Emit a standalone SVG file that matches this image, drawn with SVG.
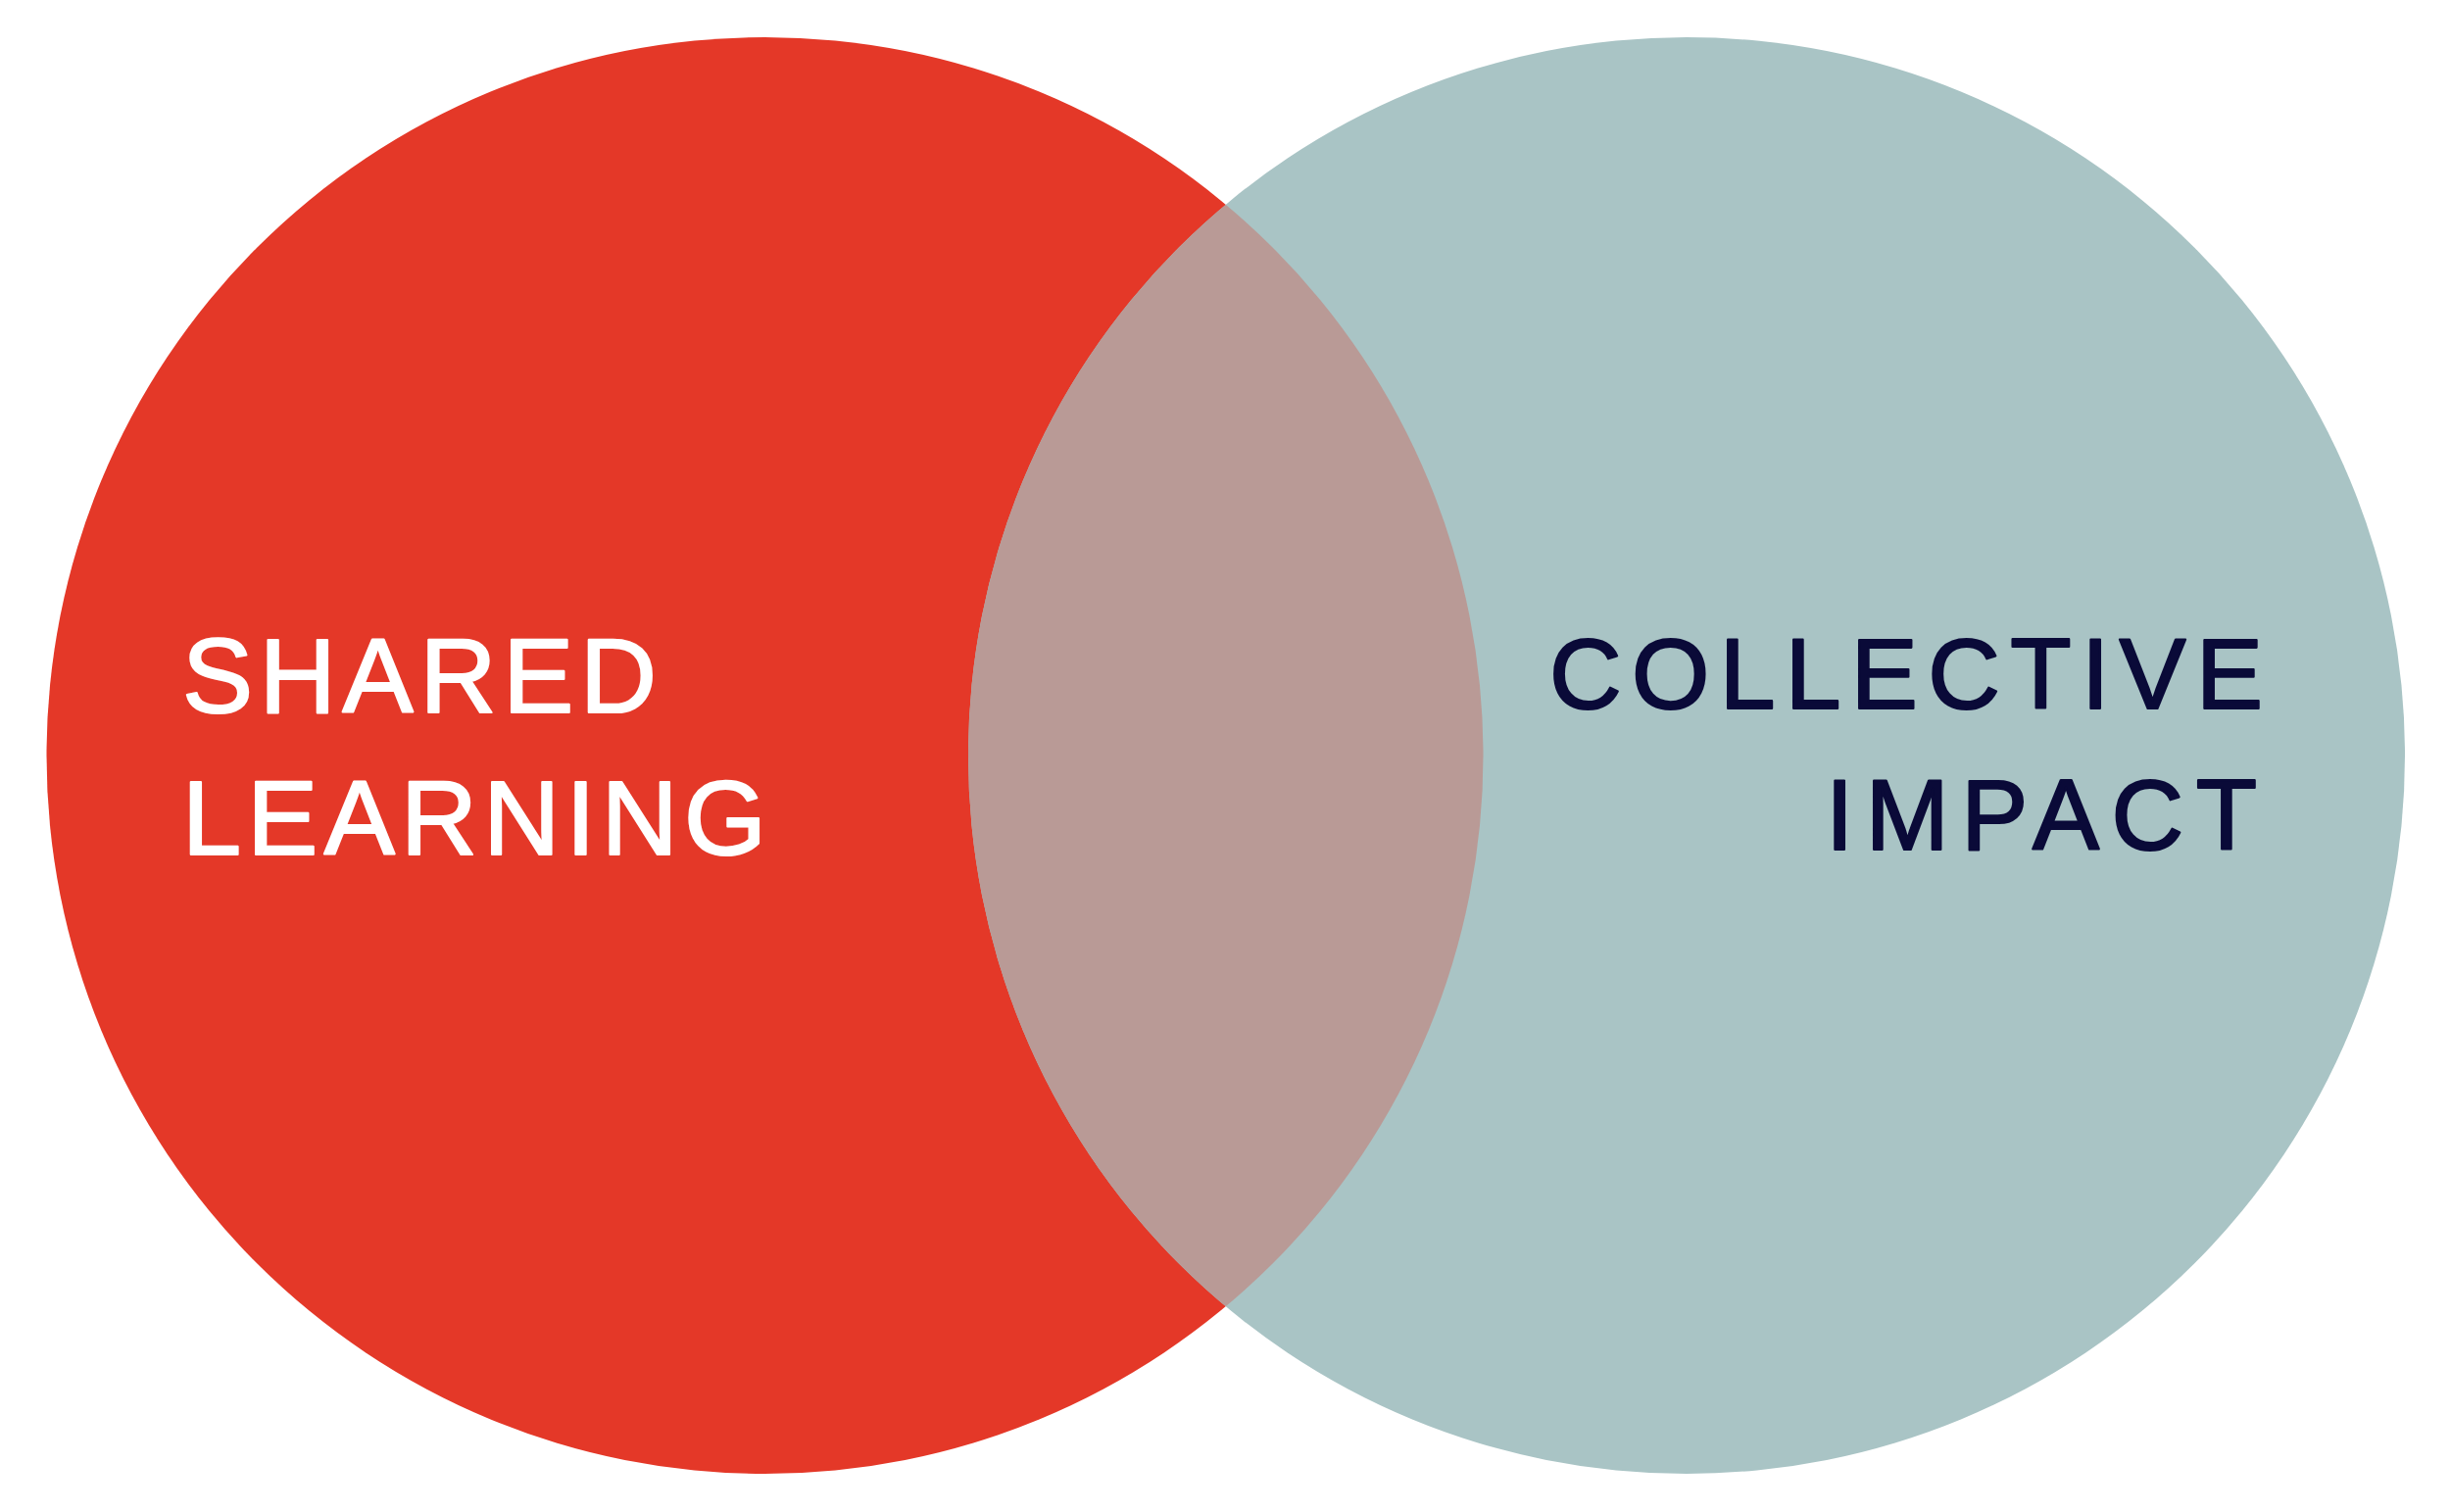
<svg xmlns="http://www.w3.org/2000/svg" width="2500" height="1543" viewBox="0 0 2500 1543">
  <defs>
    <style>
      .lbl { font-family: "Liberation Sans", Arial, sans-serif; stroke-width: 2.2; stroke-linejoin: round; }
      .white { fill: #FFFFFF; stroke: #FFFFFF; }
      .navy { fill: #0A0A38; stroke: #0A0A38; }
    </style>
    <clipPath id="clipLeft">
      <circle cx="780.5" cy="771" r="733"/>
    </clipPath>
  </defs>
  <rect x="0" y="0" width="2500" height="1543" fill="#FFFFFF"/>
  <g id="shared-learning">
    <circle cx="780.5" cy="771" r="733" fill="#E43828"/>
    <text class="lbl white" x="186" y="727" font-size="108" textLength="484" lengthAdjust="spacing">SHARED</text>
    <text class="lbl white" x="186" y="872" font-size="108" textLength="596" lengthAdjust="spacing">LEARNING</text>
  </g>
  <g id="collective-impact">
    <circle cx="1721" cy="771" r="733" fill="#A9C4C5"/>
    <text class="lbl navy" x="2309" y="723" font-size="102" text-anchor="end" textLength="728" lengthAdjust="spacing">COLLECTIVE</text>
    <text class="lbl navy" x="2303" y="867" font-size="102" text-anchor="end" textLength="440" lengthAdjust="spacing">IMPACT</text>
  </g>
  <g id="overlap">
    <circle cx="1721" cy="771" r="733" fill="#B99A96" clip-path="url(#clipLeft)"/>
  </g>
</svg>
